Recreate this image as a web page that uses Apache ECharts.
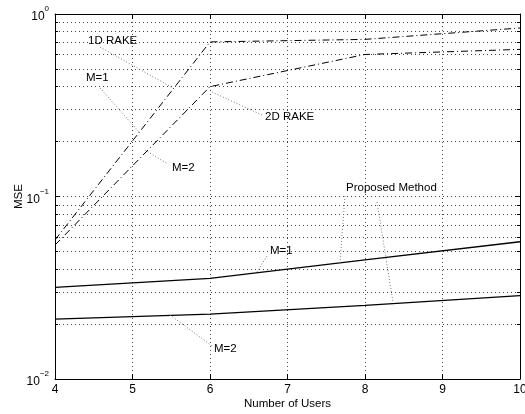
<!DOCTYPE html>
<html>
<head>
<meta charset="utf-8">
<script src="https://cdn.jsdelivr.net/npm/echarts@6/dist/echarts.min.js"></script>
<style>
  html, body { margin: 0; padding: 0; background: #fff; }
  #main { width: 525px; height: 414px; }
</style>
</head>
<body>
<div id="main"></div>
<script>
var users = [4, 6, 8, 10];
var rake1D = [0.0578, 0.703, 0.726, 0.838];
var rake2D = [0.0542, 0.400, 0.600, 0.640];
var propM1 = [0.0318, 0.0356, 0.0449, 0.0565];
var propM2 = [0.0213, 0.0227, 0.0253, 0.0286];
var xTicks = [4, 5, 6, 7, 8, 9, 10];

// annotation texts (left, middle) and leader lines, in data coords
var notes = [
  { text: '1D RAKE', at: [4.426, 0.711] },
  { text: 'M=1', at: [4.40, 0.446] },
  { text: 'M=2', at: [5.51, 0.1433] },
  { text: '2D RAKE', at: [6.71, 0.2727] },
  { text: 'Proposed Method', at: [7.755, 0.1113] },
  { text: 'M=1', at: [6.774, 0.0503] },
  { text: 'M=2', at: [6.052, 0.0146] }
];
var leaders = [
  [[4.581, 0.659], [5.523, 0.393]],
  [[4.581, 0.393], [5.097, 0.2228]],
  [[5.161, 0.1798], [5.458, 0.1507]],
  [[6.026, 0.3738], [6.671, 0.2796]],
  [[7.742, 0.1006], [7.677, 0.04321]],
  [[8.155, 0.0933], [8.361, 0.02642]],
  [[6.735, 0.0472], [6.606, 0.0386]],
  [[5.484, 0.02242], [6.026, 0.01517]]
];

function pairs(xs, ys) {
  return xs.map(function (x, i) { return [x, ys[i]]; });
}

var font = 'Liberation Sans, Arial, Helvetica, sans-serif';
var gridDot = { color: '#444', width: 1, type: [1, 3] };

var myChart = echarts.init(document.getElementById('main'));

var option = {
  animation: false,
  textStyle: { fontFamily: font },
  grid: { left: 55, top: 14, right: 5, bottom: 35, outerBoundsMode: 'none' },
  xAxis: [{
    type: 'value', min: 4, max: 10, interval: 1,
    name: 'Number of Users', nameLocation: 'middle', nameGap: 19, nameMoveOverlap: false,
    nameTextStyle: { fontSize: 11.5, color: '#000', fontFamily: font },
    axisLine: { lineStyle: { color: '#000', width: 1 } },
    axisTick: { inside: true, length: 5, lineStyle: { color: '#000' } },
    axisLabel: { fontSize: 12, color: '#000', margin: 5, fontFamily: font },
    splitLine: { show: true, lineStyle: gridDot }
  }, {
    type: 'value', min: 4, max: 10, interval: 1, position: 'top',
    axisLine: { lineStyle: { color: '#000', width: 1 } },
    axisTick: { inside: true, length: 5, lineStyle: { color: '#000' } },
    axisLabel: { show: false }, splitLine: { show: false }
  }],
  yAxis: [{
    type: 'log', min: 0.01, max: 1, logBase: 10,
    name: 'MSE', nameLocation: 'middle', nameGap: 30, nameMoveOverlap: false,
    nameTextStyle: { fontSize: 11.5, color: '#000', fontFamily: font },
    axisLine: { show: true, lineStyle: { color: '#000', width: 1 } },
    axisTick: { inside: true, length: 5, lineStyle: { color: '#000' } },
    minorTick: { show: true, splitNumber: 9, length: 3, lineStyle: { color: '#000' } },
    minorSplitLine: { show: true, lineStyle: gridDot },
    splitLine: { show: true, lineStyle: gridDot },
    axisLabel: {
      margin: 6, color: '#000', fontFamily: font,
      formatter: function (v) {
        var e = Math.round(Math.log10(v));
        return '{b|10}{s|' + (e < 0 ? '\u2212' + (-e) : e) + '}';
      },
      rich: {
        b: { fontSize: 12, lineHeight: 18, verticalAlign: 'bottom', fontFamily: font, color: '#000' },
        s: { fontSize: 8, verticalAlign: 'top', fontFamily: font, color: '#000' }
      }
    }
  }, {
    type: 'log', min: 0.01, max: 1, logBase: 10, position: 'right',
    axisLine: { show: true, lineStyle: { color: '#000', width: 1 } },
    axisTick: { inside: true, length: 5, lineStyle: { color: '#000' } },
    minorTick: { show: true, splitNumber: 9, length: 3, lineStyle: { color: '#000' } },
    axisLabel: { show: false }, splitLine: { show: false }
  }],
  series: [
    { name: '1D RAKE', type: 'line', data: pairs(users, rake1D), showSymbol: false,
      lineStyle: { color: '#000', width: 1, type: [7, 3, 1, 3] } },
    { name: '2D RAKE', type: 'line', data: pairs(users, rake2D), showSymbol: false,
      lineStyle: { color: '#000', width: 1, type: [7, 3, 1, 3] } },
    { name: 'Proposed M=1', type: 'line', data: pairs(users, propM1), showSymbol: false,
      lineStyle: { color: '#000', width: 1.3 } },
    { name: 'Proposed M=2', type: 'line', data: pairs(users, propM2), showSymbol: false,
      lineStyle: { color: '#000', width: 1.3 } }
  ]
};

myChart.setOption(option);

// place annotations through the chart's own scales
var els = [];
leaders.forEach(function (l) {
  var a = myChart.convertToPixel({ gridIndex: 0 }, l[0]);
  var b = myChart.convertToPixel({ gridIndex: 0 }, l[1]);
  els.push({ type: 'line', silent: true, z: 10,
    shape: { x1: a[0], y1: a[1], x2: b[0], y2: b[1] },
    style: { stroke: '#777', lineWidth: 1, lineDash: [1, 2] } });
});
notes.forEach(function (n) {
  var p = myChart.convertToPixel({ gridIndex: 0 }, n.at);
  els.push({ type: 'text', silent: true, z: 11, x: p[0], y: p[1],
    style: { text: n.text, fill: '#000', font: '11.5px ' + font,
      textAlign: 'left', textVerticalAlign: 'middle' } });
});
myChart.setOption({ graphic: els });
</script>
</body>
</html>
